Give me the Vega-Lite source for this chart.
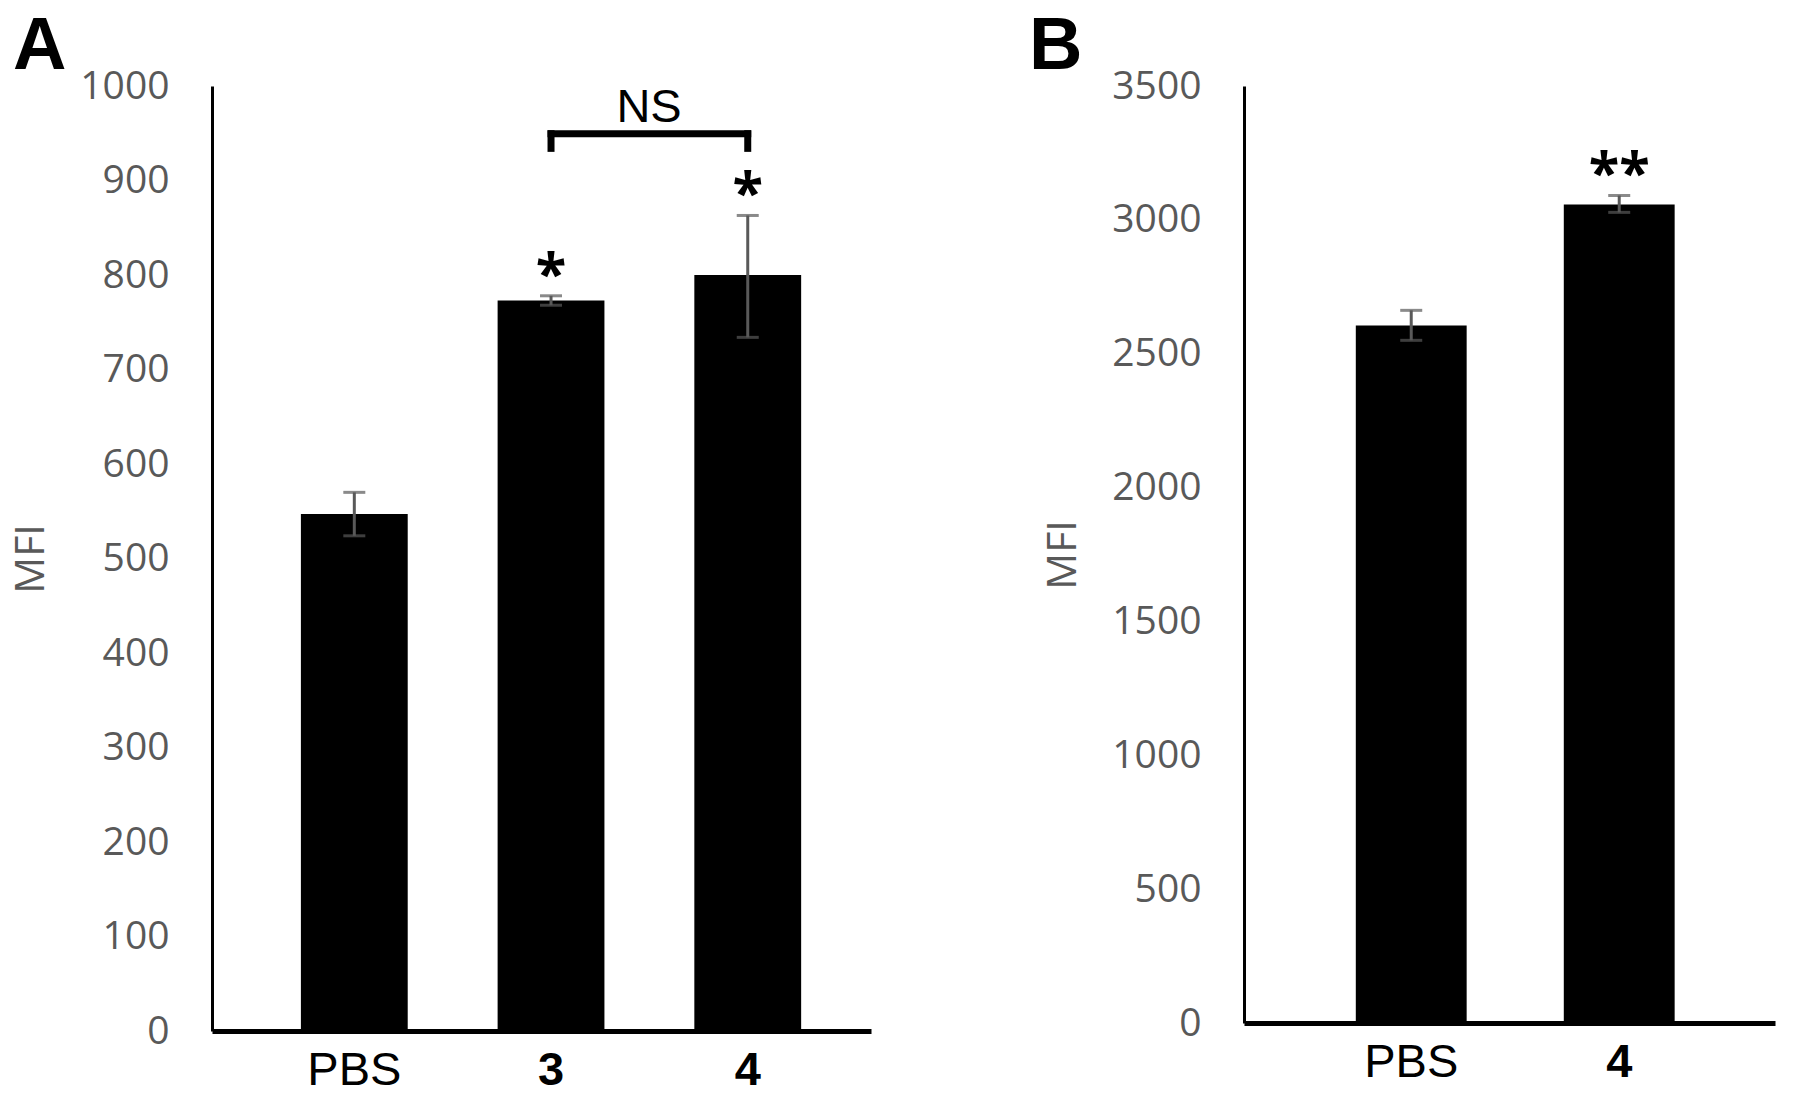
{
  "$schema": "https://vega.github.io/schema/vega-lite/v6.json",
  "background": "white",
  "padding": {"left": 10, "top": 10, "right": 5, "bottom": 5},
  "bounds": "flush",
  "spacing": 373,
  "config": {
    "view": {"stroke": null},
    "font": "Open Sans",
    "axisY": {
      "grid": false, "ticks": false, "tickSize": 0, "labelPadding": 43,
      "labelFont": "Open Sans", "labelFontSize": 39, "labelColor": "#595959",
      "domainColor": "black", "domainWidth": 3,
      "titleFont": "Open Sans", "titleFontSize": 41, "titleFontWeight": "normal",
      "titleColor": "#595959", "titlePadding": 27
    },
    "axisX": {
      "grid": false, "ticks": false, "tickSize": 0, "labelPadding": 16, "labelAngle": 0,
      "labelFont": "Liberation Sans", "labelFontSize": 47, "labelColor": "black",
      "labelFontWeight": {"condition": {"test": "datum.value === 'PBS'", "value": "normal"}, "value": "bold"},
      "domainColor": "black", "domainWidth": 5
    }
  },
  "hconcat": [
    {
      "width": 659,
      "height": 945,
      "title": {"text": "A", "anchor": "start", "frame": "group", "dx": -199, "dy": 76, "fontSize": 74, "font": "Liberation Sans", "fontWeight": "bold", "color": "black", "baseline": "alphabetic", "offset": 0},
      "data": {"values": [
        {"group": "PBS", "mfi": 547, "lo": 524, "hi": 570, "sig": ""},
        {"group": "3", "mfi": 773, "lo": 768, "hi": 778, "sig": "*"},
        {"group": "4", "mfi": 800, "lo": 734, "hi": 863, "sig": "*"}
      ]},
      "encoding": {
        "x": {"field": "group", "type": "nominal", "sort": ["PBS", "3", "4"],
              "scale": {"paddingInner": 0.457, "paddingOuter": 0.4035, "align": 0.56},
              "axis": {"title": null}}
      },
      "layer": [
        {"mark": {"type": "bar", "color": "black"},
         "encoding": {"y": {"field": "mfi", "type": "quantitative", "scale": {"domain": [0, 1000], "nice": false},
                            "axis": {"title": "MFI", "format": "d", "values": [0, 100, 200, 300, 400, 500, 600, 700, 800, 900, 1000]}}}},
        {"mark": {"type": "rule", "color": "#595959", "strokeWidth": 3},
         "encoding": {"y": {"field": "lo", "type": "quantitative"}, "y2": {"field": "hi"}}},
        {"mark": {"type": "tick", "color": "#595959", "size": 22, "thickness": 3, "orient": "horizontal"},
         "encoding": {"y": {"field": "lo", "type": "quantitative"}}},
        {"mark": {"type": "tick", "color": "#595959", "size": 22, "thickness": 3, "orient": "horizontal"},
         "encoding": {"y": {"field": "hi", "type": "quantitative"}}},
        {"mark": {"type": "text", "font": "Open Sans", "fontSize": 56, "fontWeight": "bold", "color": "black", "baseline": "alphabetic", "align": "center", "dy": -3},
         "encoding": {"y": {"field": "hi", "type": "quantitative"}, "text": {"field": "sig"}}},
        {"data": {"values": [
            {"group": "3", "group2": "4", "y": 949.5, "y2": 949.5},
            {"group": "3", "group2": "3", "y": 934, "y2": 949.5},
            {"group": "4", "group2": "4", "y": 934, "y2": 949.5}
          ]},
         "mark": {"type": "rule", "color": "black", "strokeWidth": 7, "strokeCap": "square"},
         "encoding": {"x2": {"field": "group2"}, "y": {"field": "y", "type": "quantitative"}, "y2": {"field": "y2"}}},
        {"data": {"values": [{"group": "3", "label": "NS", "y": 962}]},
         "mark": {"type": "text", "font": "Liberation Sans", "fontSize": 47, "color": "black", "baseline": "alphabetic", "align": "center", "dx": 98},
         "encoding": {"y": {"field": "y", "type": "quantitative"}, "text": {"field": "label"}}}
      ]
    },
    {
      "width": 531,
      "height": 937,
      "title": {"text": "B", "anchor": "start", "frame": "group", "dx": -215, "dy": 76, "fontSize": 74, "font": "Liberation Sans", "fontWeight": "bold", "color": "black", "baseline": "alphabetic", "offset": 0},
      "data": {"values": [
        {"group": "PBS", "mfi": 2605, "lo": 2550, "hi": 2662, "sig": ""},
        {"group": "4", "mfi": 3057, "lo": 3028, "hi": 3091, "sig": "**"}
      ]},
      "encoding": {
        "x": {"field": "group", "type": "nominal", "sort": ["PBS", "4"],
              "scale": {"paddingInner": 0.467, "paddingOuter": 0.51, "align": 0.527},
              "axis": {"title": null}}
      },
      "layer": [
        {"mark": {"type": "bar", "color": "black"},
         "encoding": {"y": {"field": "mfi", "type": "quantitative", "scale": {"domain": [0, 3500], "nice": false},
                            "axis": {"title": "MFI", "format": "d", "values": [0, 500, 1000, 1500, 2000, 2500, 3000, 3500]}}}},
        {"mark": {"type": "rule", "color": "#595959", "strokeWidth": 3},
         "encoding": {"y": {"field": "lo", "type": "quantitative"}, "y2": {"field": "hi"}}},
        {"mark": {"type": "tick", "color": "#595959", "size": 22, "thickness": 3, "orient": "horizontal"},
         "encoding": {"y": {"field": "lo", "type": "quantitative"}}},
        {"mark": {"type": "tick", "color": "#595959", "size": 22, "thickness": 3, "orient": "horizontal"},
         "encoding": {"y": {"field": "hi", "type": "quantitative"}}},
        {"mark": {"type": "text", "font": "Open Sans", "fontSize": 56, "fontWeight": "bold", "color": "black", "baseline": "alphabetic", "align": "center", "dy": -3},
         "encoding": {"y": {"field": "hi", "type": "quantitative"}, "text": {"field": "sig"}}}
      ]
    }
  ]
}
